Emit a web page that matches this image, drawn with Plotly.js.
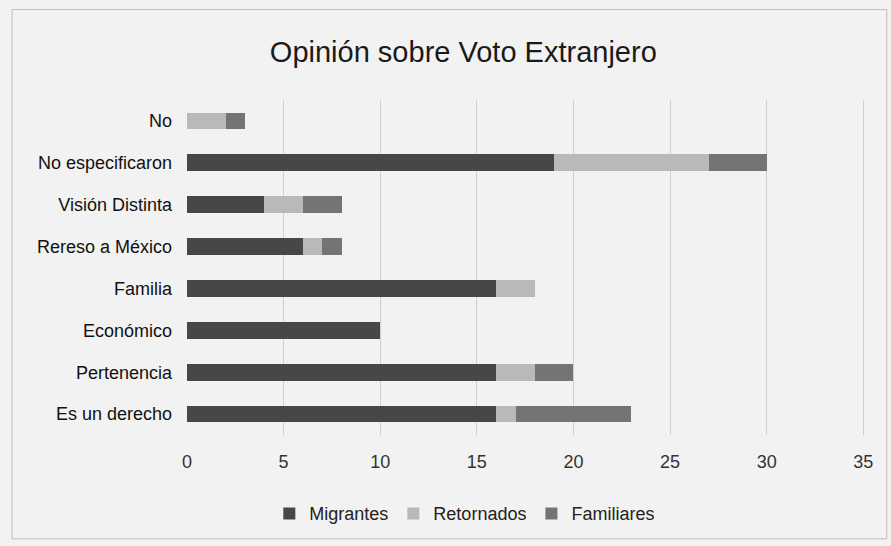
<!DOCTYPE html>
<html><head><meta charset="utf-8">
<script src="https://cdn.plot.ly/plotly-3.0.1.min.js"></script>
<style>body{margin:0;background:#f0f0f0}#c{width:891px;height:546px}</style>
</head><body><div id="c"></div>
<script>
const categories = ["Es un derecho","Pertenencia","Económico","Familia","Rereso a México","Visión Distinta","No especificaron","No"];
const migrantes = [16,16,10,16,6,4,19,0];
const retornados = [1,2,0,2,1,2,8,2];
const familiares = [6,2,0,0,1,2,3,1];
const xTicks = [0,5,10,15,20,25,30,35];

const font = "'Liberation Sans Narrow', 'Liberation Sans', Arial, sans-serif";
const mk = (name, vals, color) => ({type:"bar", orientation:"h", name:name, y:categories, x:vals,
  marker:{color:color, line:{color:color, width:0}}, hoverinfo:"x+y"});
const data = [
  mk("Migrantes", migrantes, "#474747"),
  mk("Retornados", retornados, "#b9b9b9"),
  mk("Familiares", familiares, "#747474")
];
const layout = {
  width:891, height:546, barmode:"stack", bargap:0.6,
  paper_bgcolor:"#f2f2f2", plot_bgcolor:"#f2f2f2",
  margin:{l:187, r:18, t:100, b:111, autoexpand:false},
  font:{family:font, color:"#222", size:17},
  title:{text:"Opinión sobre Voto Extranjero", x:0.52, xref:"container", xanchor:"center", y:0.905, yanchor:"middle",
    font:{family:font, size:29, color:"#1a1a1a"}},
  xaxis:{range:[0,35.5], tickvals:xTicks, ticktext:xTicks.map(String), showgrid:true, gridcolor:"#cfcfcf",
    zeroline:false, showline:false, ticks:"", ticklabelstandoff:14, tickfont:{size:18, color:"#333"}, fixedrange:true},
  yaxis:{categoryorder:"array", categoryarray:categories, showgrid:false, ticks:"", ticklabelstandoff:14,
    tickfont:{size:18, color:"#111"}, showline:false, fixedrange:true},
  legend:{orientation:"h", x:0.405, xanchor:"center", y:-0.235, yanchor:"middle",
    font:{size:18, color:"#222"}, traceorder:"normal", itemwidth:30},
  shapes:[{type:"rect", xref:"paper", yref:"paper", x0:-0.255, x1:1.02, y0:-0.31, y1:1.27,
    line:{color:"#bdbdbd", width:1}, fillcolor:"rgba(0,0,0,0)"}],
  showlegend:true
};
Plotly.newPlot("c", data, layout, {displayModeBar:false, staticPlot:true});
</script></body></html>
